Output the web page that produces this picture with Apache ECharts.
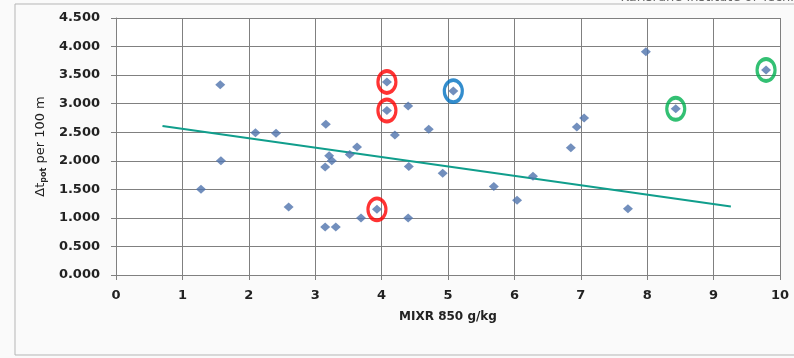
<!DOCTYPE html>
<html>
<head>
<meta charset="utf-8">
<script src="https://cdn.jsdelivr.net/npm/echarts@6/dist/echarts.min.js"></script>
<style>
  html, body { margin: 0; padding: 0; background: #fafafa; }
  #chart { width: 794px; height: 358px; }
</style>
</head>
<body>
<div id="chart"></div>
<script>
// MIXR 850 (g/kg) vs delta t_pot per 100 m
var mixr = [1.28, 1.57, 1.58, 2.10, 2.41, 2.60, 3.16, 3.15, 3.21, 3.25, 3.15, 3.31,
            3.52, 3.63, 3.69, 3.93, 4.08, 4.08, 4.20, 4.40, 4.41, 4.40, 4.71, 4.92,
            5.08, 5.69, 6.04, 6.28, 6.85, 6.94, 7.05, 7.71, 7.98, 8.43, 9.79];
var dtpot = [1.50, 3.33, 2.00, 2.49, 2.48, 1.19, 2.64, 1.89, 2.09, 2.00, 0.84, 0.84,
             2.11, 2.24, 1.00, 1.15, 3.38, 2.88, 2.45, 2.96, 1.90, 1.00, 2.55, 1.78,
             3.22, 1.55, 1.31, 1.73, 2.23, 2.59, 2.75, 1.16, 3.91, 2.91, 3.59];

// trend line end points
var trendX = [0.70, 9.26];
var trendY = [2.61, 1.20];

// circled points (index into the arrays above)
var redIdx = [16, 17, 15];
var blueIdx = [24];
var greenIdx = [33, 34];

var yTicks = ['0.000', '0.500', '1.000', '1.500', '2.000', '2.500', '3.000', '3.500', '4.000', '4.500'];

function pick(idx) {
    var out = [];
    for (var i = 0; i < idx.length; i++) {
        out.push([mixr[idx[i]], dtpot[idx[i]]]);
    }
    return out;
}

var points = [];
for (var i = 0; i < mixr.length; i++) {
    points.push([mixr[i], dtpot[i]]);
}
var trend = [];
for (var j = 0; j < trendX.length; j++) {
    trend.push([trendX[j], trendY[j]]);
}

function ring(color, data) {
    return {
        type: 'scatter',
        data: data,
        symbol: 'circle',
        symbolSize: [18, 22],
        silent: true,
        z: 5,
        itemStyle: { color: 'rgba(0,0,0,0)', borderColor: color, borderWidth: 3.5 }
    };
}

var txt = '#222';
var font = 'DejaVu Sans';
var chart = echarts.init(document.getElementById('chart'));
var option = {
    backgroundColor: '#fafafa',
    animation: false,
    graphic: [
        { type: 'rect', shape: { x: 15, y: 4, width: 800, height: 351 },
          style: { fill: 'none', stroke: '#b5b5b5', lineWidth: 1 }, z: -1 },
        { type: 'text', right: -40, top: -9, z: 10,
          style: { text: 'Karlsruhe Institute of Technology', fontSize: 13, fill: '#666', fontFamily: font } }
    ],
    grid: {
        left: 116, right: 14, top: 18, bottom: 83,
        show: true, backgroundColor: '#ffffff', borderWidth: 0
    },
    xAxis: {
        type: 'value', min: 0, max: 10, interval: 1,
        name: 'MIXR 850 g/kg', nameLocation: 'middle', nameGap: 36,
        nameTextStyle: { fontFamily: font, fontWeight: 'bold', fontSize: 12, color: txt },
        axisLine: { show: true, lineStyle: { color: '#808080', width: 1 } },
        axisTick: { show: true, inside: false, length: 5, lineStyle: { color: '#808080' } },
        axisLabel: { margin: 14, fontFamily: font, fontWeight: 'bold', fontSize: 13, color: txt },
        splitLine: { show: true, lineStyle: { color: '#808080', width: 1 } }
    },
    yAxis: {
        type: 'value', min: 0, max: 4.5, interval: 0.5,
        name: '{a|Δt}{s|pot}{a| per 100 m}', nameLocation: 'middle', nameGap: 64, nameRotate: 90,
        nameTextStyle: {
            rich: {
                a: { fontFamily: font, fontSize: 13, color: txt },
                s: { fontFamily: font, fontSize: 8, fontWeight: 'bold', color: txt, verticalAlign: 'bottom', padding: [6, 0, 0, 0] }
            }
        },
        axisLine: { show: true, lineStyle: { color: '#808080', width: 1 } },
        axisTick: { show: true, length: 5, lineStyle: { color: '#808080' } },
        axisLabel: {
            margin: 16, fontFamily: font, fontWeight: 'bold', fontSize: 13, color: txt,
            formatter: function (v) { return yTicks[Math.round(v / 0.5)]; }
        },
        splitLine: { show: true, lineStyle: { color: '#808080', width: 1 } }
    },
    series: [
        {
            type: 'line', data: trend, symbol: 'none', z: 3,
            lineStyle: { color: '#109e8c', width: 2 }
        },
        {
            type: 'scatter', data: points, symbol: 'diamond', symbolSize: [10, 9], z: 4,
            itemStyle: { color: '#4f73ad' }
        },
        ring('#ff0000', pick(redIdx)),
        ring('#0070c0', pick(blueIdx)),
        ring('#00b050', pick(greenIdx))
    ]
};
chart.setOption(option);
</script>
</body>
</html>
